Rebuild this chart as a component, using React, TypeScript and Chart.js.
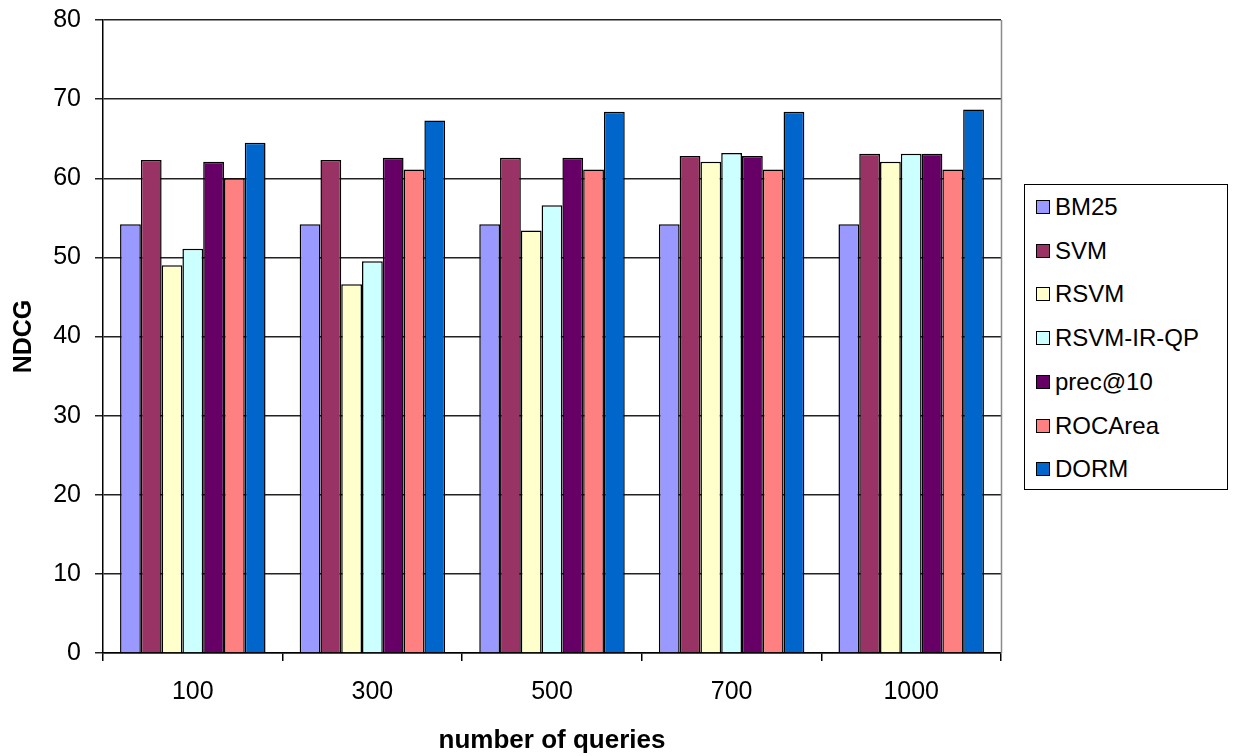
import React, { useEffect, useRef } from "react";
import { Chart, registerables } from "chart.js";

Chart.register(...registerables);

const categories = ["100", "300", "500", "700", "1000"];
const seriesNames = ["BM25", "SVM", "RSVM", "RSVM-IR-QP", "prec@10", "ROCArea", "DORM"];
const seriesColors = ["#9999FF", "#993366", "#FFFFCC", "#CCFFFF", "#660066", "#FF8080", "#0066CC"];

const bm25 = [54.2, 54.2, 54.2, 54.2, 54.2];
const svm = [62.3, 62.3, 62.6, 62.8, 63.1];
const rsvm = [49.0, 46.6, 53.4, 62.1, 62.1];
const rsvmIrQp = [51.1, 49.5, 56.6, 63.2, 63.1];
const prec10 = [62.1, 62.6, 62.6, 62.8, 63.1];
const rocArea = [60.0, 61.1, 61.1, 61.1, 61.1];
const dorm = [64.5, 67.3, 68.4, 68.4, 68.7];

const seriesValues = [bm25, svm, rsvm, rsvmIrQp, prec10, rocArea, dorm];

const yTicks = [0, 10, 20, 30, 40, 50, 60, 70, 80];

const FONT = "'Liberation Sans', Arial, Helvetica, sans-serif";

const rightBorder = {
  id: "rightBorder",
  afterDraw(chart: any) {
    const { ctx, chartArea } = chart;
    ctx.save();
    ctx.strokeStyle = "#8a8a8a";
    ctx.lineWidth = 1.5;
    ctx.beginPath();
    ctx.moveTo(chartArea.right + 0.5, chartArea.top);
    ctx.lineTo(chartArea.right + 0.5, chartArea.bottom);
    ctx.stroke();
    ctx.restore();
  },
};

export default function App() {
  const canvasRef = useRef<HTMLCanvasElement | null>(null);

  useEffect(() => {
    document.body.style.margin = "0";
    const canvas = canvasRef.current;
    if (!canvas) return;
    const chart = new Chart(canvas, {
      type: "bar",
      data: {
        labels: categories,
        datasets: seriesNames.map((name, i) => ({
          label: name,
          data: seriesValues[i],
          backgroundColor: seriesColors[i],
          borderColor: "#000000",
          borderWidth: 1.5,
          barPercentage: 1,
          categoryPercentage: 0.81,
        })),
      },
      plugins: [rightBorder],
      options: {
        animation: false,
        responsive: false,
        maintainAspectRatio: false,
        layout: { padding: { top: 20, right: 240, left: 0, bottom: 0 } },
        plugins: {
          legend: { display: false },
          tooltip: { enabled: false },
        },
        scales: {
          x: {
            grid: {
              offset: true,
              drawOnChartArea: false,
              drawTicks: true,
              tickLength: 8,
              color: "#000000",
              lineWidth: 1.5,
            },
            border: { color: "#000000", width: 1.5 },
            ticks: {
              color: "#000000",
              font: { family: FONT, size: 25 },
              padding: 16,
            },
            title: {
              display: true,
              text: "number of queries",
              color: "#000000",
              font: { family: FONT, size: 26, weight: "bold" },
              padding: { top: 0, bottom: 0 },
            },
            afterFit(scale: any) {
              scale.height = 103;
              scale.paddingLeft = 0;
              scale.paddingRight = 0;
            },
          },
          y: {
            min: 0,
            max: 80,
            afterBuildTicks(scale: any) {
              scale.ticks = yTicks.map((v) => ({ value: v }));
            },
            grid: {
              color: "#222222",
              lineWidth: 1.5,
              tickLength: 8,
            },
            border: { color: "#000000", width: 1.5 },
            ticks: {
              color: "#000000",
              font: { family: FONT, size: 25 },
              padding: 14,
            },
            title: {
              display: true,
              text: "NDCG",
              color: "#000000",
              font: { family: FONT, size: 25, weight: "bold" },
              padding: { top: 9, bottom: 0 },
            },
            afterFit(scale: any) {
              scale.width = 103;
              scale.paddingTop = 0;
              scale.paddingBottom = 0;
            },
          },
        },
      },
    });
    return () => chart.destroy();
  }, []);

  return (
    <div style={{ position: "absolute", left: 0, top: 0, width: 1241, height: 756, background: "#ffffff" }}>
      <canvas ref={canvasRef} width={1241} height={756} style={{ display: "block" }} />
      <div
        style={{
          position: "absolute",
          left: 1024,
          top: 184,
          width: 204,
          height: 306,
          border: "1.5px solid #000",
          boxSizing: "border-box",
          background: "#fff",
        }}
      >
        {seriesNames.map((name, i) => (
          <div
            key={name}
            style={{
              position: "absolute",
              left: 11,
              top: 22 + i * 43.7 - 15,
              height: 30,
              display: "flex",
              alignItems: "center",
              fontFamily: FONT,
              fontSize: 24,
              color: "#000",
              whiteSpace: "nowrap",
            }}
          >
            <span
              style={{
                display: "inline-block",
                width: 14,
                height: 14,
                boxSizing: "border-box",
                border: "1.5px solid #000",
                background: seriesColors[i],
                marginRight: 5,
              }}
            />
            <span>{name}</span>
          </div>
        ))}
      </div>
    </div>
  );
}
